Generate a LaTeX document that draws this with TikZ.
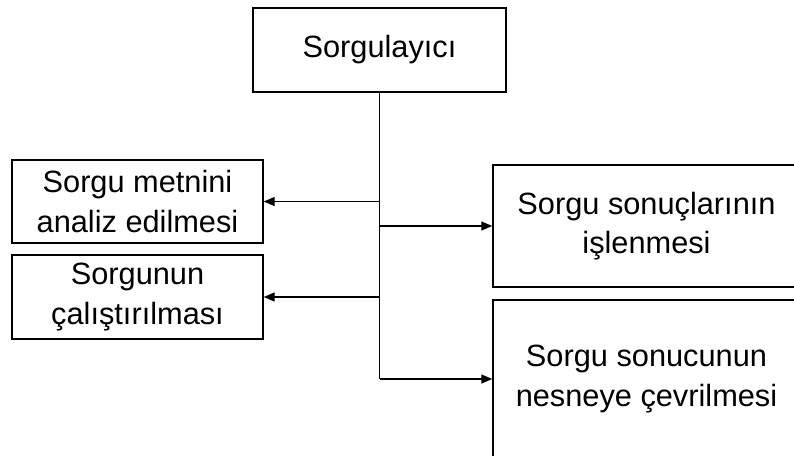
\documentclass[tikz,border=0pt]{standalone}
\usepackage{fontspec}
\setmainfont{Liberation Sans}
\usetikzlibrary{arrows.meta}
\tikzset{%
    box/.style={draw,line width=0.85pt,inner sep=0pt,align=center,
        font=\fontsize{17.5}{22.5}\selectfont}
}

\begin{document}
\begin{tikzpicture}[
        x=0.02cm, y=-0.02cm,
        arr/.style={line width=0.8pt,-{Triangle[length=0.22cm,width=0.18cm]}},
        trunk/.style={line width=0.8pt}
        ]
        \clip (0,0) rectangle (794,456);
        \node[box, minimum width=5.06cm, minimum height=1.68cm] (top) at (379.5,50) {Sorgulayıcı};

        \node[box, minimum width=5.02cm, minimum height=1.66cm] (l1) at (137.5,201.5) {Sorgu metnini\\analiz edilmesi};
        \node[box, minimum width=5.02cm, minimum height=1.68cm] (l2) at (137.5,297) {Sorgunun\\çalıştırılması};

        \node[box, minimum width=6.14cm, minimum height=2.44cm] (r1) at (646.5,226) {Sorgu sonuçlarının\\işlenmesi};
        \node[box, minimum width=6.14cm, minimum height=3.16cm] (r2) at (646.5,379) {Sorgu sonucunun\\nesneye çevrilmesi};

        \coordinate (end) at (top.south |- r2.west);
        \draw[trunk] (top.south) -- (end);
        \draw[arr] (top.south |- l1.east) -- (l1.east);
        \draw[arr] (top.south |- l2.east) -- (l2.east);
        \draw[arr] (top.south |- r1.west) -- (r1.west);
        \draw[arr] (end) -- (r2.west);
    \end{tikzpicture}
\end{document}
